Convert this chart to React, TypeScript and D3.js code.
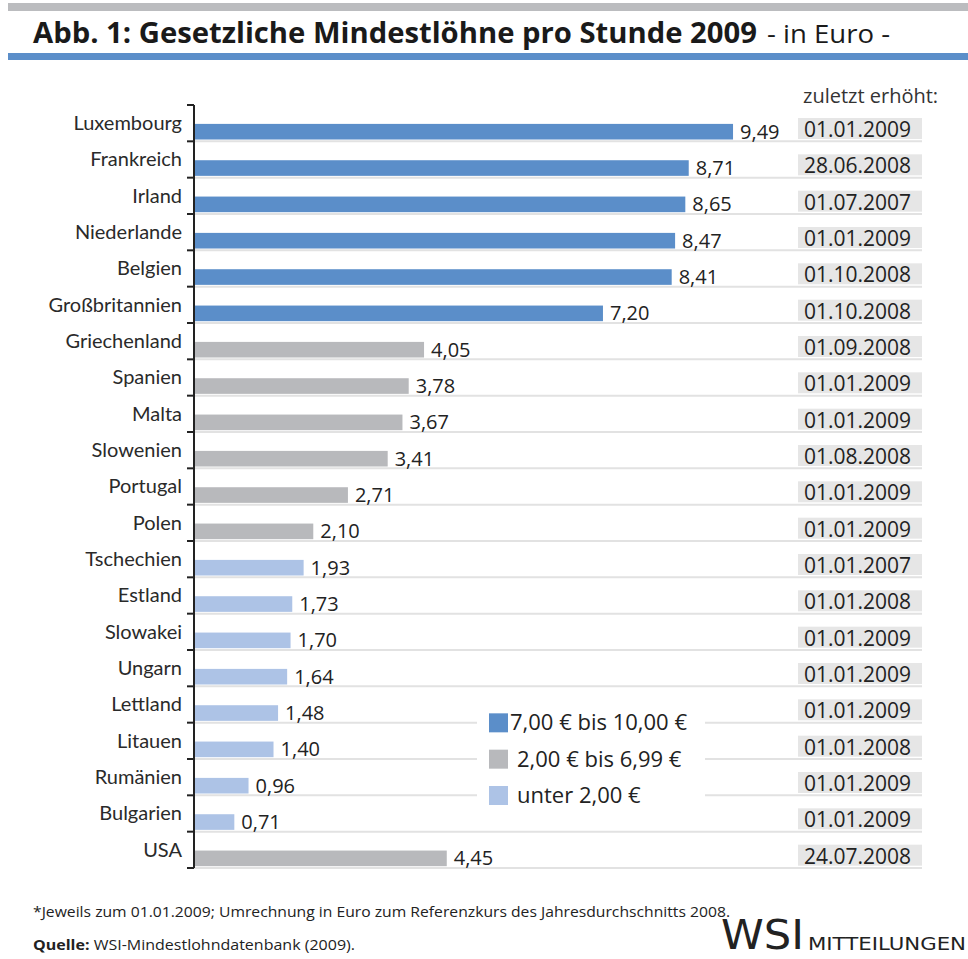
import { useEffect, useRef } from 'react';
import * as d3 from 'd3';

const countries = [
  'Luxembourg', 'Frankreich', 'Irland', 'Niederlande', 'Belgien', 'Großbritannien',
  'Griechenland', 'Spanien', 'Malta', 'Slowenien', 'Portugal', 'Polen', 'Tschechien',
  'Estland', 'Slowakei', 'Ungarn', 'Lettland', 'Litauen', 'Rumänien', 'Bulgarien', 'USA',
];
const wages = [
  9.49, 8.71, 8.65, 8.47, 8.41, 7.2, 4.05, 3.78, 3.67, 3.41, 2.71, 2.1, 1.93, 1.73, 1.7,
  1.64, 1.48, 1.4, 0.96, 0.71, 4.45,
];
const raisedOn = [
  '01.01.2009', '28.06.2008', '01.07.2007', '01.01.2009', '01.10.2008', '01.10.2008',
  '01.09.2008', '01.01.2009', '01.01.2009', '01.08.2008', '01.01.2009', '01.01.2009',
  '01.01.2007', '01.01.2008', '01.01.2009', '01.01.2009', '01.01.2009', '01.01.2008',
  '01.01.2009', '01.01.2009', '24.07.2008',
];
const legendLabels = ['7,00 € bis 10,00 €', '2,00 € bis 6,99 €', 'unter 2,00 €'];
const groupColors = ['#5b8ec9', '#b8b9bc', '#adc3e6'];

const W = 968;
const H = 959;

export default function App() {
  const svgRef = useRef<SVGSVGElement>(null);

  useEffect(() => {
    if (!svgRef.current) return;
    const svg = d3.select(svgRef.current);
    svg.selectAll('*').remove();

    const left = 194;
    const y = d3.scaleBand<string>().domain(countries).range([105, 868]).paddingInner(0);
    const bw = y.bandwidth();
    const x = d3.scaleLinear().domain([0, 10]).range([left, left + 568]);
    const color = d3.scaleThreshold<number, string>().domain([2, 7]).range([groupColors[2], groupColors[1], groupColors[0]]);
    const fmt = (v: number) => v.toFixed(2).replace('.', ',');
    const sans = '"Open Sans", sans-serif';

    // header
    svg.append('rect').attr('x', 8).attr('y', 3).attr('width', W - 8).attr('height', 8).attr('fill', '#bbbcbf');
    svg.append('rect').attr('x', 8).attr('y', 53).attr('width', W - 8).attr('height', 7).attr('fill', '#5b8ec9');
    svg.append('text').attr('x', 33).attr('y', 43).attr('fill', '#1a1a1a')
      .attr('font-family', sans).attr('font-size', 28).attr('font-weight', 'bold')
      .attr('textLength', 724).attr('lengthAdjust', 'spacingAndGlyphs')
      .text('Abb. 1: Gesetzliche Mindestlöhne pro Stunde 2009');
    svg.append('text').attr('x', 767).attr('y', 43).attr('fill', '#1a1a1a')
      .attr('font-family', sans).attr('font-size', 25)
      .attr('textLength', 123).attr('lengthAdjust', 'spacingAndGlyphs')
      .text('- in Euro -');

    // gridlines at band boundaries
    const bounds = countries.map((c) => y(c)!).slice(1).concat([y.range()[1]]);
    svg.append('g').selectAll('line').data(bounds).join('line')
      .attr('x1', left).attr('x2', 922).attr('y1', (d) => d).attr('y2', (d) => d)
      .attr('stroke', '#e2e2e2').attr('stroke-width', 2);

    // date boxes
    svg.append('text').attr('x', 803).attr('y', 103).attr('font-size', 20)
      .attr('font-family', sans).attr('fill', '#333').text('zuletzt erhöht:');
    svg.append('g').selectAll('rect').data(countries).join('rect')
      .attr('x', 798).attr('y', (d) => y(d)! + 13).attr('width', 124).attr('height', 21)
      .attr('fill', '#e6e6e6');
    svg.append('g').selectAll('text').data(raisedOn).join('text')
      .attr('x', 804).attr('y', (_, i) => y(countries[i])! + 32)
      .attr('font-size', 21).attr('font-family', sans).attr('fill', '#222')
      .text((d) => d);

    // bars
    svg.append('g').selectAll('rect').data(wages).join('rect')
      .attr('x', left + 1).attr('y', (_, i) => y(countries[i])! + bw * 0.52)
      .attr('width', (d) => x(d) - left - 1).attr('height', bw * 0.43)
      .attr('fill', (d) => color(d));

    // value labels
    svg.append('g').selectAll('text').data(wages).join('text')
      .attr('x', (d) => x(d) + 7).attr('y', (_, i) => y(countries[i])! + bw * 0.93)
      .attr('font-size', 20).attr('font-family', sans).attr('fill', '#222')
      .text((d) => fmt(d));

    // country labels
    svg.append('g').selectAll('text').data(countries).join('text')
      .attr('x', 182).attr('y', (d) => y(d)! + 25).attr('text-anchor', 'end')
      .attr('font-size', 20).attr('font-family', 'Lato, sans-serif').attr('fill', '#2a2a2a')
      .text((d) => d);

    // axis
    const ticks = countries.map((c) => y(c)!).concat([y.range()[1]]);
    svg.append('line').attr('x1', left).attr('x2', left).attr('y1', ticks[0]).attr('y2', ticks[ticks.length - 1])
      .attr('stroke', '#222').attr('stroke-width', 2);
    svg.append('g').selectAll('line').data(ticks).join('line')
      .attr('x1', left - 7).attr('x2', left).attr('y1', (d) => d).attr('y2', (d) => d)
      .attr('stroke', '#222').attr('stroke-width', 2);

    // legend
    const lg = svg.append('g');
    const ly0 = y('Lettland')!;
    lg.append('rect').attr('x', 477).attr('y', ly0 + 18).attr('width', 228).attr('height', bw * 3 - 4).attr('fill', '#fff');
    legendLabels.forEach((t, i) => {
      const yy = ly0 + 27 + i * bw;
      lg.append('rect').attr('x', 489).attr('y', yy).attr('width', 19).attr('height', 19).attr('fill', groupColors[i]);
      lg.append('text').attr('x', i === 0 ? 510 : 517).attr('y', yy + 17).attr('font-size', 22)
        .attr('font-family', sans).attr('fill', '#222').text(t);
    });

    // footer
    svg.append('text').attr('x', 33).attr('y', 917).attr('font-size', 14)
      .attr('font-family', sans).attr('fill', '#222')
      .attr('textLength', 697).attr('lengthAdjust', 'spacingAndGlyphs')
      .text('*Jeweils zum 01.01.2009; Umrechnung in Euro zum Referenzkurs des Jahresdurchschnitts 2008.');
    const src = svg.append('text').attr('x', 33).attr('y', 950).attr('font-size', 14)
      .attr('font-family', sans).attr('fill', '#222')
      .attr('textLength', 322).attr('lengthAdjust', 'spacingAndGlyphs');
    src.append('tspan').attr('font-weight', 'bold').text('Quelle:');
    src.append('tspan').text(' WSI-Mindestlohndatenbank (2009).');
    svg.append('text').attr('x', 721).attr('y', 949).attr('font-size', 40)
      .attr('font-family', '"DejaVu Sans", sans-serif').attr('fill', '#222')
      .attr('textLength', 83).attr('lengthAdjust', 'spacingAndGlyphs').text('WSI');
    svg.append('text').attr('x', 808).attr('y', 950).attr('font-size', 17)
      .attr('font-family', '"DejaVu Sans", sans-serif').attr('fill', '#222')
      .attr('textLength', 158).attr('lengthAdjust', 'spacingAndGlyphs').text('MITTEILUNGEN');
  }, []);

  return (
    <svg
      ref={svgRef}
      width={W}
      height={H}
      style={{ position: 'absolute', left: 0, top: 0, background: '#fff', display: 'block' }}
    />
  );
}
